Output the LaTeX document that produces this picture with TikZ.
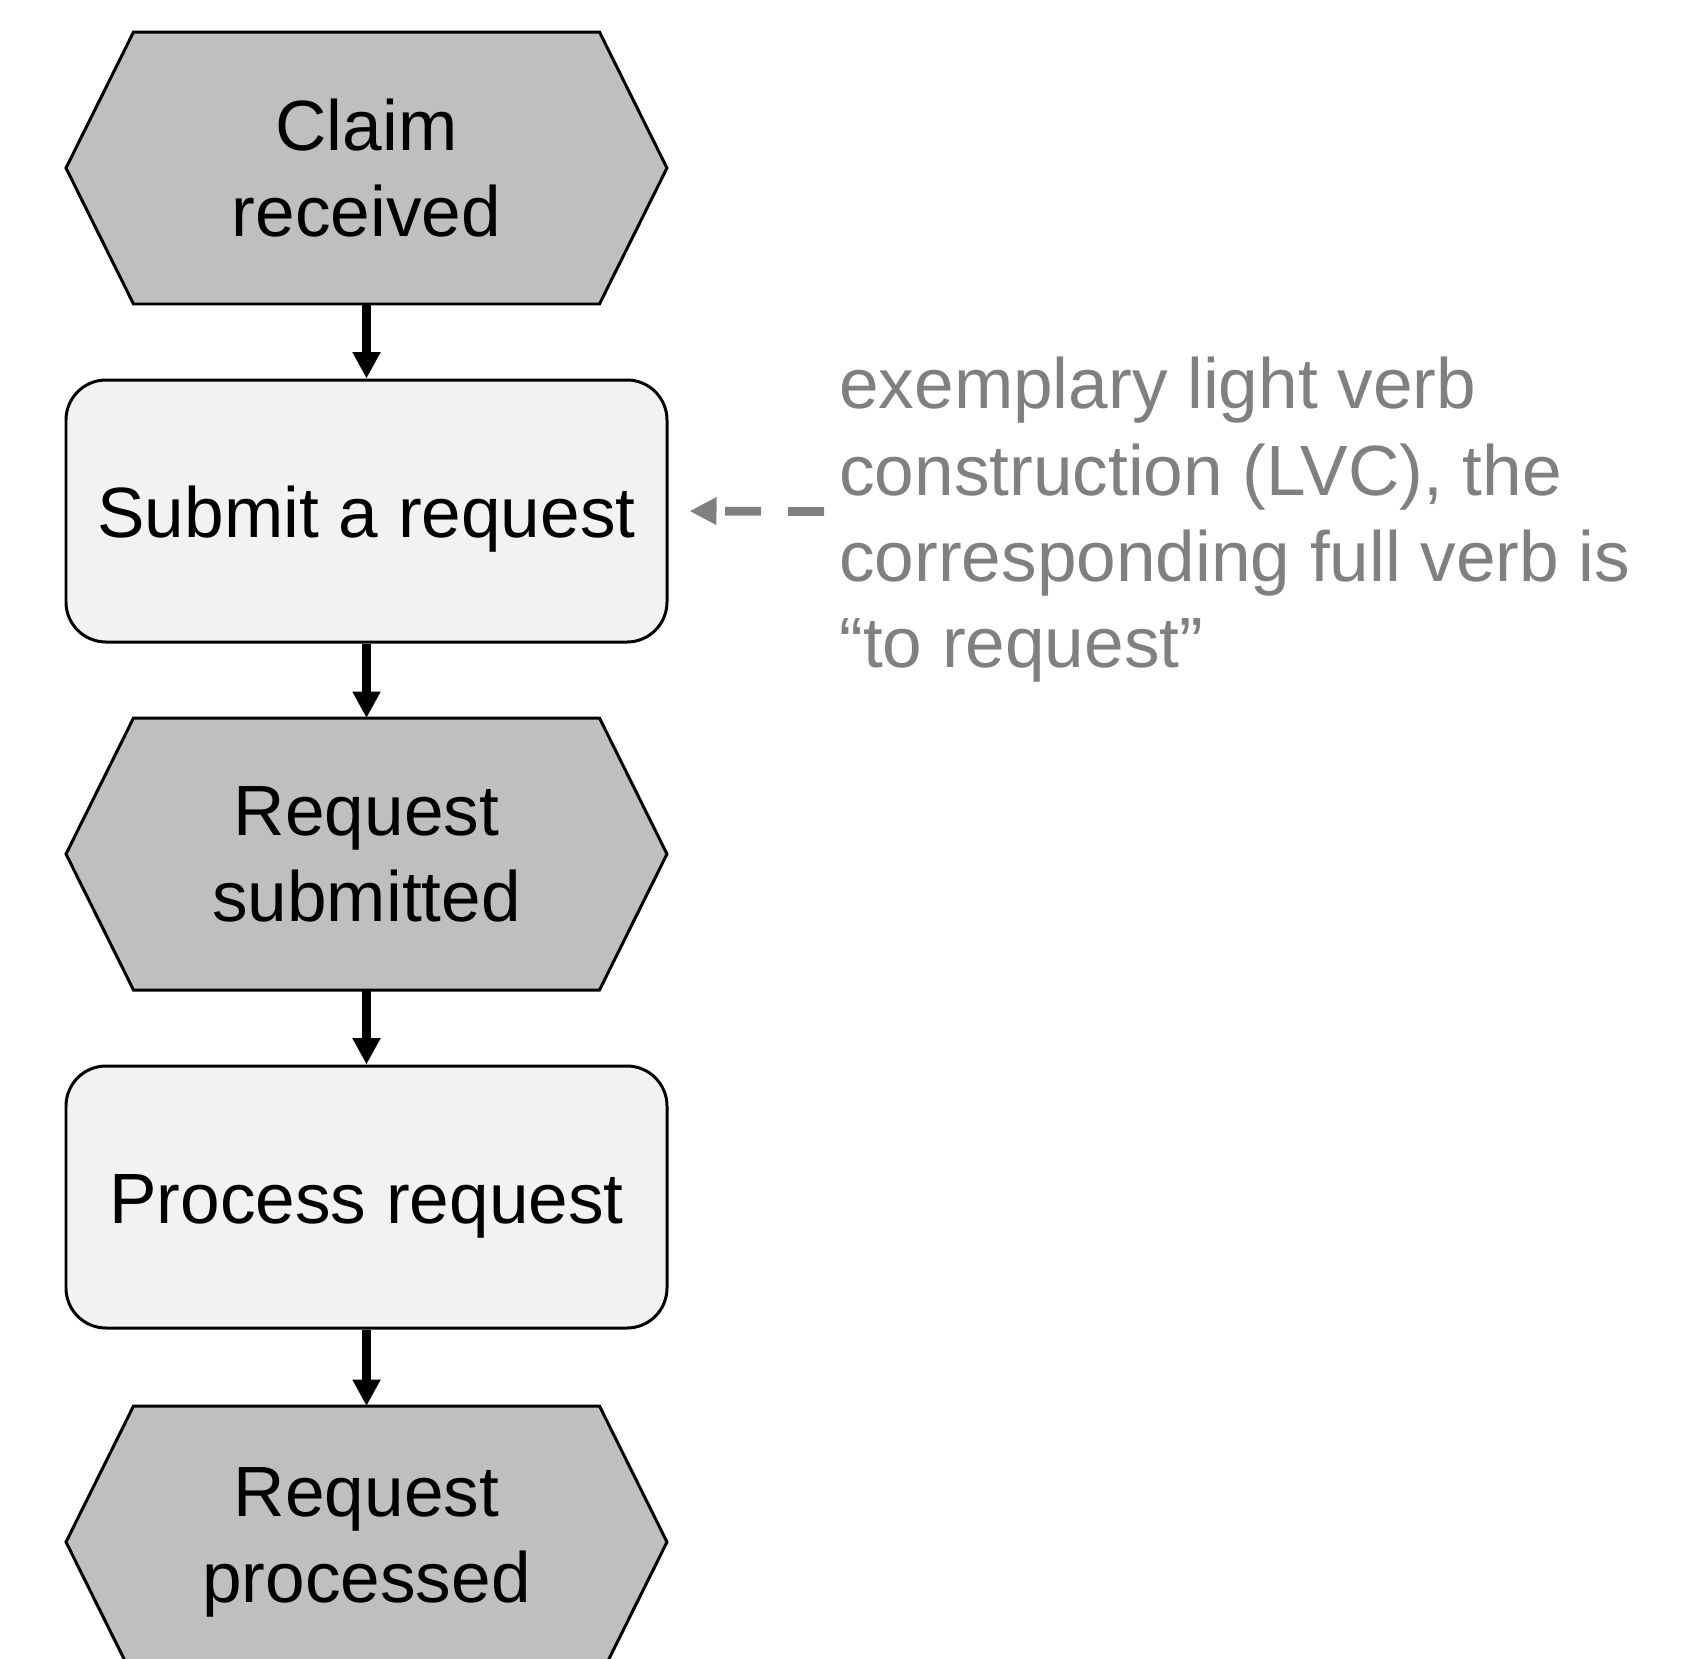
\documentclass[tikz,border=0pt]{standalone}
\usepackage{fontspec}
\setmainfont{Liberation Sans}
\usetikzlibrary{arrows.meta}
\usetikzlibrary{backgrounds}

\definecolor{eventgray}{HTML}{BFBFBF}
\definecolor{funcgray}{HTML}{F2F2F2}
\definecolor{notegray}{HTML}{808080}

\tikzset{
  event/.style={rectangle, minimum width=11.96cm, minimum height=5.38cm,
    inner sep=0pt, outer sep=0.85pt, align=center,
    font=\fontsize{40.5}{49}\selectfont},
  hexline/.style={draw=black, line width=1.7pt, fill=eventgray, line join=miter},
  func/.style={rectangle, rounded corners=0.8cm, draw=black, line width=1.7pt,
    fill=funcgray, minimum width=12.02cm, minimum height=5.24cm,
    inner sep=0pt, text height=1.04cm, text depth=0pt, align=center,
    font=\fontsize{40.5}{49}\selectfont},
  flow/.style={line width=5pt, -{Triangle[length=0.53cm,width=0.53cm]}},
  hint/.style={draw=notegray, line width=5pt, dash pattern=on 0.72cm off 0.54cm,
    -{Triangle[length=0.54cm,width=0.52cm]}},
  note/.style={text=notegray, inner sep=0pt, align=left,
    font=\fontsize{40.5}{49}\selectfont}
}

\begin{document}
\begin{tikzpicture}

\useasboundingbox (0,0) rectangle (34,-33.16);

\coordinate (lvc) at (16.48,-10.23);

\node[event] (claim) at (7.33,-3.36) {Claim\\received};
\node[func] (submit) at (7.33,-10.22) {Submit a request};
\node[event] (submitted) at (7.33,-17.08) {Request\\submitted};
\node[func] (process) at (7.33,-23.94) {Process request};
\node[event] (processed) at (7.33,-30.84) {Request\\processed};

\node[note, anchor=north west] (note) at (16.78,-7.14) {exemplary light verb\\construction (LVC), the\\corresponding full verb is\\“to request”};

\begin{scope}[on background layer]
\foreach \ev in {claim,submitted,processed}
  \draw[hexline] (\ev.west) -- ([xshift=1.35cm]\ev.north west) -- ([xshift=-1.35cm]\ev.north east)
    -- (\ev.east) -- ([xshift=-1.35cm]\ev.south east) -- ([xshift=1.35cm]\ev.south west) -- cycle;
\end{scope}

\draw[flow] (claim) -- (submit);
\draw[flow] (submit) -- (submitted);
\draw[flow] (submitted) -- (process);
\draw[flow] (process) -- (processed);

\draw[hint, shorten >=0.42cm] (lvc) -- (submit.east);

\end{tikzpicture}
\end{document}
